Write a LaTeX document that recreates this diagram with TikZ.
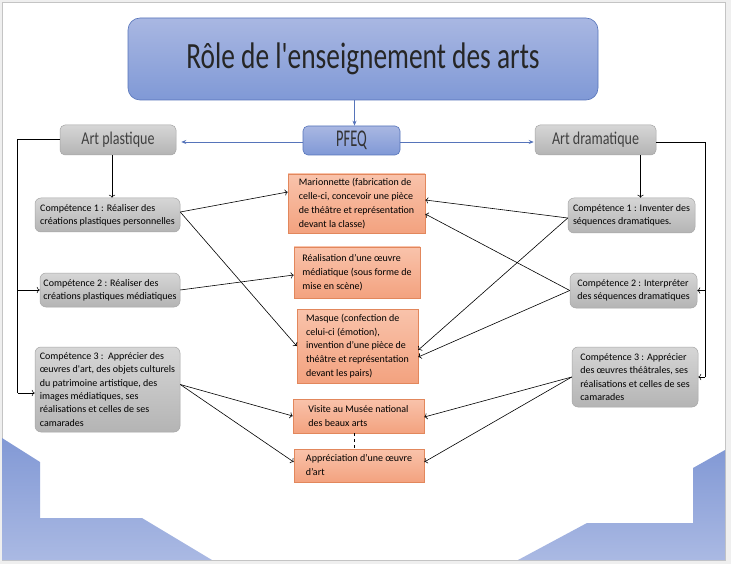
\documentclass[tikz,border=0pt]{standalone}
\usepackage{fontspec}
\setmainfont{Carlito}
\usepackage{xcolor}
\usepackage{tikz}
\usetikzlibrary{arrows.meta}

\definecolor{pagegray}{HTML}{EFEFEF}
\definecolor{framegray}{HTML}{C4C4C4}
\definecolor{bluetop}{HTML}{A9B7E2}
\definecolor{bluebot}{HTML}{8099D6}
\definecolor{blueline}{HTML}{5674BA}
\definecolor{graytop}{HTML}{D6D6D6}
\definecolor{graybot}{HTML}{B4B4B4}
\definecolor{grayline}{HTML}{A6A6A6}
\definecolor{orangetop}{HTML}{F9C3AB}
\definecolor{orangebot}{HTML}{F3A27F}
\definecolor{orangeline}{HTML}{E2875C}
\definecolor{cornertop}{HTML}{8299D5}
\definecolor{cornerbot}{HTML}{AAB9E3}

\begin{document}
\begin{tikzpicture}[x=1pt, y=-1pt,
    titlebox/.style={draw=blueline, top color=bluetop, bottom color=bluebot, rounded corners=12pt, line width=0.6pt, text=black!85},
    pfeqbox/.style={draw=blueline, top color=bluetop, bottom color=bluebot, rounded corners=5pt, line width=0.6pt, text=black!80},
    artbox/.style={draw=grayline, top color=graytop, bottom color=graybot, rounded corners=5pt, line width=0.5pt, text=black!75},
    compbox/.style={draw=grayline, top color=graytop, bottom color=graybot, rounded corners=6pt, line width=0.5pt,
        align=left, font=\fontsize{10}{13.3}\selectfont, inner sep=0pt},
    activbox/.style={draw=orangeline, top color=orangetop, bottom color=orangebot, line width=0.6pt,
        align=left, font=\fontsize{10}{13.8}\selectfont, inner sep=0pt},
    link/.style={->, line width=0.6pt},
    bluelink/.style={-{Stealth[length=5pt,width=4pt]}, blueline, line width=0.7pt}]

    % Page and margins
    \useasboundingbox (0,0) rectangle (731,564);
    \fill[pagegray] (0,0) rectangle (731,564);
    \draw[framegray, fill=white] (2,2) rectangle (725,560);

    % Blue corners at the bottom
    \shade[top color=cornertop, bottom color=cornerbot] (2,438) -- (40,462) -- (40,518) -- (142,518) -- (212,560) -- (2,560) -- cycle;
    \shade[top color=cornertop, bottom color=cornerbot] (725,450) -- (693,468) -- (693,523) -- (587,523) -- (518,560) -- (725,560) -- cycle;

    % Title and PFEQ
    \node[titlebox, minimum width=470, minimum height=82] (title) at (363,59)
        {\fontsize{37}{40}\selectfont\scalebox{0.74}[1]{Rôle de l\textquotesingle enseignement des arts}};
    \node[pfeqbox, minimum width=97, minimum height=29] (pfeq) at (351.5,140.5)
        {\fontsize{24}{24}\selectfont\scalebox{0.6}[1]{PFEQ}};

    % The two arts
    \node[artbox, minimum width=116, minimum height=30] (artp) at (118,140)
        {\fontsize{18}{18}\selectfont\scalebox{0.78}[1]{Art plastique}};
    \node[artbox, minimum width=121, minimum height=30] (artd) at (595.5,140)
        {\fontsize{18}{18}\selectfont\scalebox{0.78}[1]{Art dramatique}};

    % Competences in art plastique
    \node[compbox, minimum width=145, minimum height=34] (compLa) at (107.5,215)
        {Compétence 1 : Réaliser des\\créations plastiques personnelles};
    \node[compbox, minimum width=140, minimum height=34] (compLb) at (110,290)
        {Compétence 2 : Réaliser des\\créations plastiques médiatiques};
    \node[compbox, minimum width=145, minimum height=85] (compLc) at (107.5,389.5)
        {Compétence 3 :\ \ Apprécier des\\œuvres d\textquotesingle art, des objets culturels\\du patrimoine artistique, des\\images médiatiques, ses\\réalisations et celles de ses\\camarades};

    % Competences in art dramatique
    \node[compbox, minimum width=127, minimum height=35] (compRa) at (631.5,215.5)
        {Compétence 1 : Inventer des\\séquences dramatiques.};
    \node[compbox, minimum width=127, minimum height=35] (compRb) at (633.5,290.5)
        {Compétence 2 : Interpréter\\des séquences dramatiques};
    \node[compbox, minimum width=126, minimum height=60] (compRc) at (635,377)
        {Compétence 3 : Apprécier\\des œuvres théâtrales, ses\\réalisations et celles de ses\\camarades};

    % Activities
    \node[activbox, minimum width=137, minimum height=59] (mario) at (356.5,203.5)
        {Marionnette (fabrication de\\celle-ci, concevoir une pièce\\de théâtre et représentation\\devant la classe)};
    \node[activbox, minimum width=126, minimum height=51] (reali) at (357,272.5)
        {Réalisation d’une œuvre\\médiatique (sous forme de\\mise en scène)};
    \node[activbox, minimum width=121, minimum height=74] (masque) at (357.5,346)
        {Masque (confection de\\celui-ci (émotion),\\invention d’une pièce de\\théâtre et représentation\\devant les pairs)};
    \node[activbox, minimum width=131, minimum height=34] (visite) at (358.5,416)
        {Visite au Musée national\\des beaux arts};
    \node[activbox, minimum width=130, minimum height=33] (appre) at (359,465.5)
        {Appréciation d’une œuvre\\d’art\phantom{p}};

    % Blue links from the title
    \draw[bluelink] ([xshift=3pt]pfeq.north |- title.south) -- ([xshift=3pt]pfeq.north);
    \draw[bluelink, shorten >=5pt] ([yshift=-1.5pt]pfeq.west) -- ([yshift=-1.5pt]pfeq.west -| artp.east);
    \draw[bluelink, shorten >=1pt] ([yshift=-1.5pt]pfeq.east) -- ([yshift=-1.5pt]pfeq.east -| artd.west);

    % Art plastique to its competences
    \draw[link] ([xshift=-6pt]artp.south) -- ([xshift=-6pt]artp.south |- compLa.north);
    \draw[line width=0.6pt] ([yshift=1pt]artp.west) -- ++(-42,0) coordinate (lbend) -- ([yshift=-3.5pt]lbend |- compLc.west);
    \draw[link] (lbend |- compLb.west) -- (compLb.west);
    \draw[link] ([yshift=-3.5pt]lbend |- compLc.west) -- ([yshift=-3.5pt]compLc.west);

    % Art dramatique to its competences
    \draw[link] ([xshift=45pt]artd.south) -- ([xshift=45pt]artd.south |- compRa.north);
    \draw[line width=0.6pt] ([yshift=-2pt]artd.east) -- ++(49,0) coordinate (rbend) -- (rbend |- compRc.east);
    \draw[link] (rbend |- compRb.east) -- (compRb.east);
    \draw[link] (rbend |- compRc.east) -- (compRc.east);

    % Left competences to activities
    \draw[link] ([yshift=3pt]compLa.east) -- ([yshift=11.5pt]mario.west);
    \draw[link] ([yshift=3pt]compLa.east) -- (masque.west);
    \draw[link] (compLb.east) -- ([yshift=-2.5pt]reali.west);
    \draw[link] ([yshift=5pt]compLc.east) -- (visite.west);
    \draw[link] ([yshift=5pt]compLc.east) -- ([yshift=3.5pt]appre.west);

    % Right competences to activities
    \draw[link] ([yshift=-2.5pt]compRa.west) -- ([yshift=3.5pt]mario.east);
    \draw[link] ([yshift=-2.5pt]compRa.west) -- ([yshift=-4pt]masque.east);
    \draw[link] (compRb.west) -- ([yshift=-10.5pt]mario.east);
    \draw[link] (compRb.west) -- ([yshift=-11pt]masque.east);
    \draw[link] (compRc.west) -- ([yshift=-1pt]visite.east);
    \draw[link] (compRc.west) -- ([yshift=3.5pt]appre.east);

    % Dashed link between the two visits
    \draw[dashed, line width=0.6pt] ([xshift=-4.5pt]visite.south) -- ([xshift=-4.5pt]visite.south |- appre.north);
\end{tikzpicture}
\end{document}
